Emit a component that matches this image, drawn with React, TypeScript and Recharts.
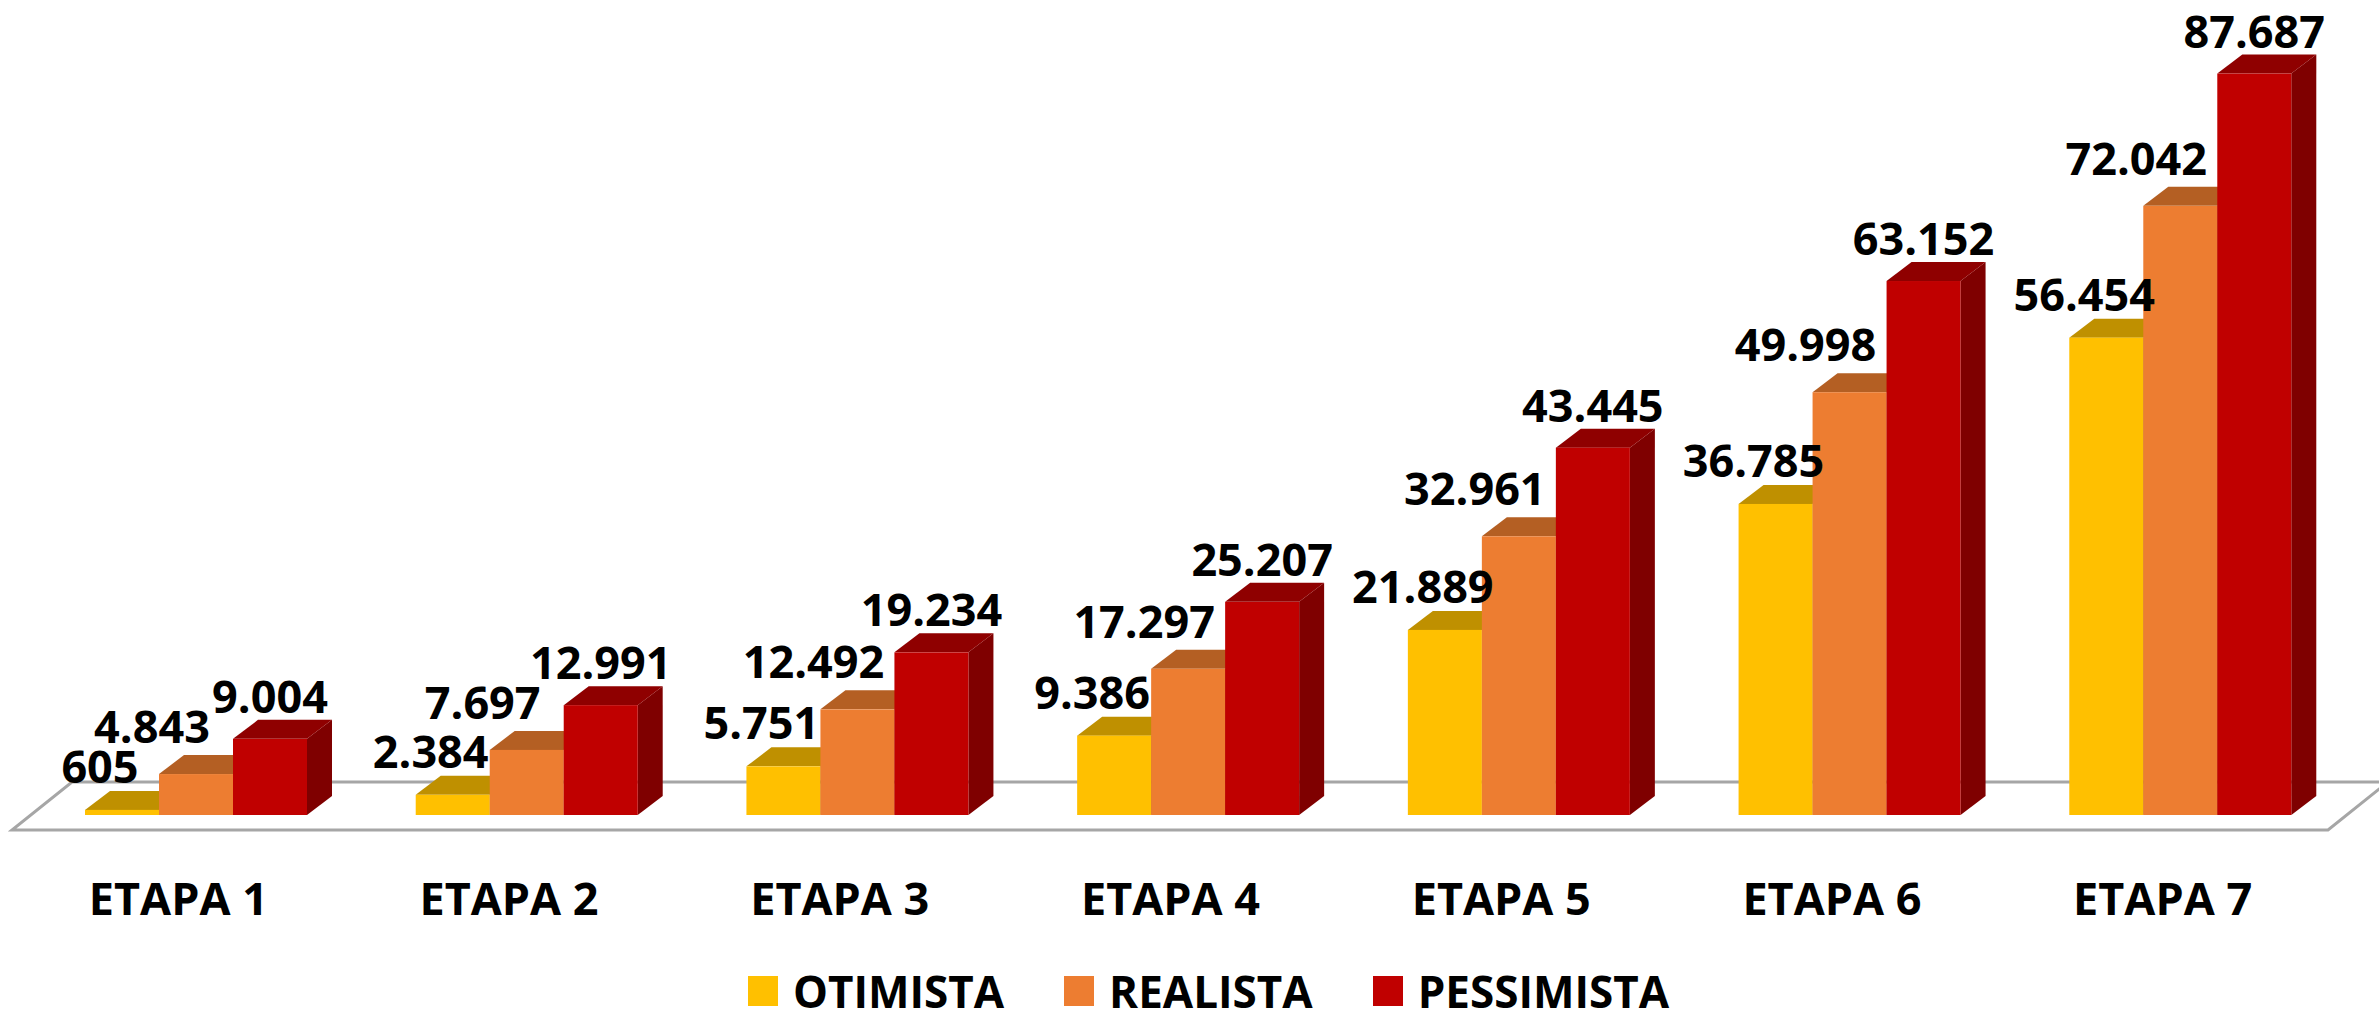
import React from 'react'
import { BarChart, Bar, XAxis, YAxis, Legend, LabelList, ReferenceArea } from 'recharts'

const categories = ['ETAPA 1', 'ETAPA 2', 'ETAPA 3', 'ETAPA 4', 'ETAPA 5', 'ETAPA 6', 'ETAPA 7']
const otimista = [605, 2384, 5751, 9386, 21889, 36785, 56454]
const realista = [4843, 7697, 12492, 17297, 32961, 49998, 72042]
const pessimista = [9004, 12991, 19234, 25207, 43445, 63152, 87687]

const FONT = '"Open Sans", "Liberation Sans", sans-serif'
// depth of the fake 3D extrusion
const DX = 25
const DY = 19

const series = [
    { key: 'otimista', name: 'OTIMISTA', front: '#FFC000', top: '#BF9000', side: '#A67C00', labelDx: -22, labelDy: 8 },
    { key: 'realista', name: 'REALISTA', front: '#ED7D31', top: '#B45F23', side: '#9C4F1A', labelDx: -44, labelDy: 12 },
    { key: 'pessimista', name: 'PESSIMISTA', front: '#C00000', top: '#8F0000', side: '#7F0000', labelDx: 0, labelDy: 7 },
]

const chartData = categories.map((name, i) => ({
    name,
    otimista: otimista[i],
    realista: realista[i],
    pessimista: pessimista[i],
}))

const fmt = (v: number) => String(v).replace(/\B(?=(\d{3})+(?!\d))/g, '.')

const makeBarShape = (s: any) => (props: any) => {
    const { x, y, width, height } = props
    if (width == null || height == null) return <g />
    const r = x + width
    const b = y + height
    return (
        <g>
            <polygon points={`${r},${y} ${r + DX},${y - DY} ${r + DX},${b - DY} ${r},${b}`} fill={s.side} />
            <polygon points={`${x},${y} ${x + DX},${y - DY} ${r + DX},${y - DY} ${r},${y}`} fill={s.top} />
            <rect x={x} y={y} width={width} height={height} fill={s.front} />
        </g>
    )
}

const makeLabel = (s: any) => (props: any) => {
    const vb = props.viewBox || props
    const { x, y, width } = vb
    if (x == null) return null
    return (
        <text
            x={x + width / 2 + s.labelDx}
            y={y - DY - s.labelDy}
            textAnchor="middle"
            fontFamily={FONT}
            fontWeight={700}
            fontSize={45}
            fill="#000"
        >
            {fmt(props.value)}
        </text>
    )
}

const Floor = (props: any) => {
    const { x, y, width, height } = props
    const left = x
    const right = x + width
    const base = y + height
    const pts = [
        [left - 19, base + 15],
        [right - 18, base + 15],
        [right + 42, base - 33],
        [left + 41, base - 33],
    ]
    return (
        <polygon
            points={pts.map(p => p.join(',')).join(' ')}
            fill="#fff"
            stroke="#A6A6A6"
            strokeWidth={3}
        />
    )
}

const CategoryTick = ({ x, y, payload }: any) => (
    <text
        x={x - 18}
        y={y + 92}
        textAnchor="middle"
        fontFamily={FONT}
        fontWeight={700}
        fontSize={45}
        fill="#000"
    >
        {payload.value}
    </text>
)

const renderLegend = () => (
    <div
        style={{
            display: 'flex',
            justifyContent: 'center',
            alignItems: 'flex-end',
            height: 50,
            paddingLeft: 40,
            paddingBottom: 5,
            boxSizing: 'border-box',
            fontFamily: FONT,
            fontWeight: 700,
            fontSize: 44,
            color: '#000',
        }}
    >
        {series.map((s, i) => (
            <div key={s.key} style={{ display: 'flex', alignItems: 'center', marginLeft: i ? 60 : 0 }}>
                <span style={{ display: 'inline-block', width: 30, height: 30, background: s.front, marginRight: 15 }} />
                <span style={{ display: 'inline-block', height: 30, lineHeight: '30px', whiteSpace: 'nowrap' }}>{s.name}</span>
            </div>
        ))}
    </div>
)

export default function App() {
    return (
        <div style={{ position: 'absolute', left: 0, top: 0, background: '#fff' }}>
            <BarChart
                width={2379}
                height={1011}
                data={chartData}
                margin={{ top: 54, right: 33, left: 31, bottom: 0 }}
                barSize={74}
                barGap={0}
            >
                <XAxis
                    dataKey="name"
                    axisLine={false}
                    tickLine={false}
                    height={146}
                    interval={0}
                    tick={<CategoryTick />}
                />
                <YAxis hide domain={[0, 90000]} />
                <ReferenceArea y1={0} y2={90000} ifOverflow="visible" shape={<Floor />} />
                {series.map(s => (
                    <Bar
                        key={s.key}
                        dataKey={s.key}
                        name={s.name}
                        fill={s.front}
                        shape={makeBarShape(s)}
                        isAnimationActive={false}
                    >
                        <LabelList dataKey={s.key} content={makeLabel(s)} />
                    </Bar>
                ))}
                <Legend verticalAlign="bottom" height={50} content={renderLegend} />
            </BarChart>
        </div>
    )
}
